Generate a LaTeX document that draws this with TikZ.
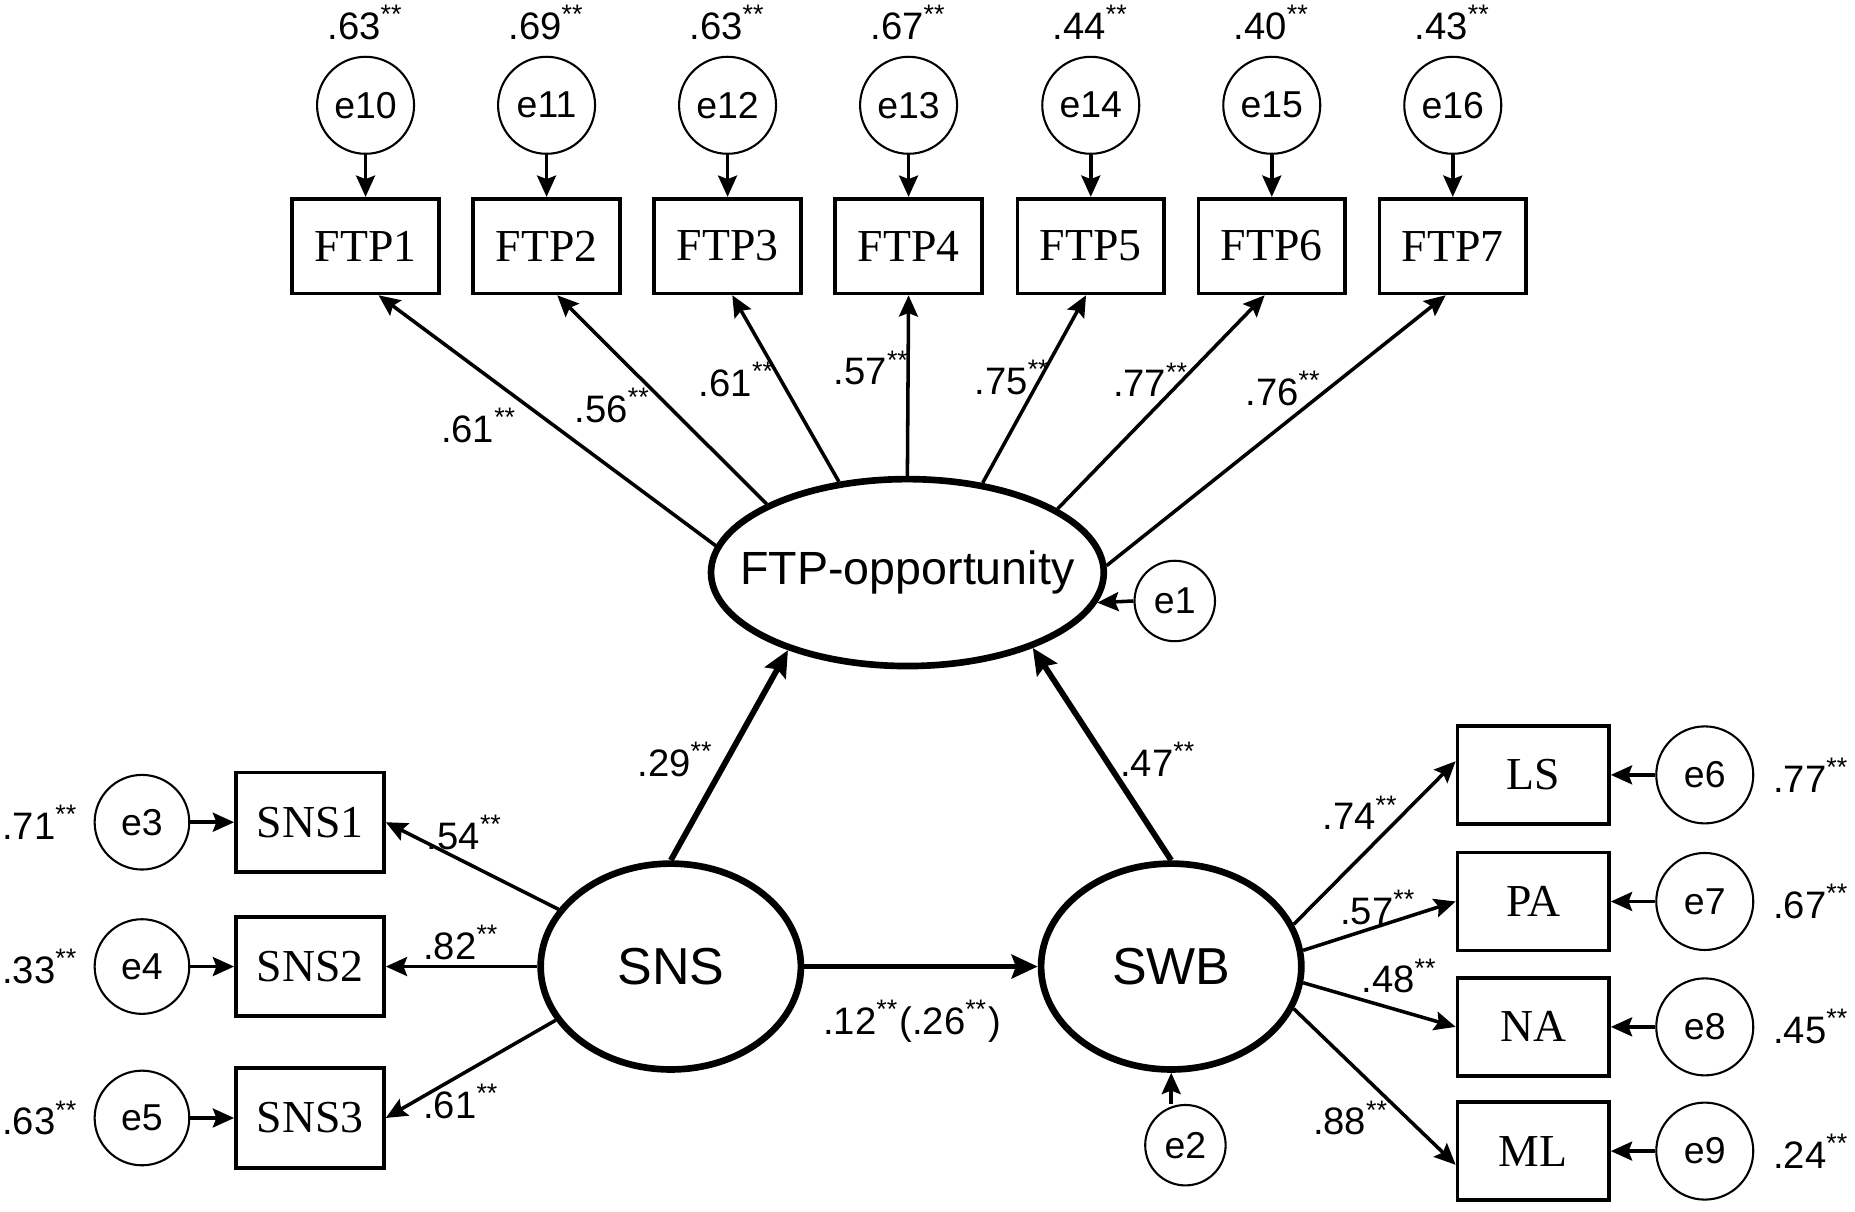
\documentclass[tikz,border=0pt]{standalone}
\usepackage{fontspec}
\setmainfont{Liberation Serif}
\setsansfont{Liberation Sans}
\usetikzlibrary{arrows.meta, shapes.geometric, positioning}
\tikzset{
	obsbox/.style={draw, line width=0.9pt, minimum width=1.24cm, minimum height=0.80cm,
	  inner sep=0pt, font=\fontsize{11}{13}\selectfont}
}
\tikzset{
	errcirc/.style={draw, circle, line width=0.5pt, minimum size=0.82cm, inner sep=0pt,
	  font=\sffamily\fontsize{9}{10}\selectfont}
}
\tikzset{
	latent/.style={draw, ellipse, line width=1.6pt, inner xsep=-0.3cm, inner ysep=0pt,
	  font=\sffamily\fontsize{12.5}{14}\selectfont}
}
\tikzset{
	coef/.style={inner sep=0pt, font=\sffamily\fontsize{9.2}{10}\selectfont}
}
\tikzset{
	arr/.style={-{Stealth[length=1.8mm,width=1.6mm,inset=0.3mm]}, line width=0.85pt},
	patharr/.style={-{Stealth[length=2.2mm,width=2mm,inset=0.35mm]}, line width=1.4pt}
}
\newcommand{\pstar}[1]{#1\textsuperscript{**}}

\begin{document}
\begin{tikzpicture}
      \useasboundingbox (0,0) rectangle (15.68,10.24);
      % latent variables
      \node[latent, minimum width=3.32cm, minimum height=1.58cm,
        font=\sffamily\fontsize{11.2}{13}\selectfont] (ftpo) at (7.67,5.40) {FTP-opportunity};
      \node[latent, minimum width=2.20cm, minimum height=1.74cm] (sns) at (5.67,2.07) {SNS};
      \node[latent, minimum width=2.20cm, minimum height=1.74cm] (swb) at (9.90,2.07) {SWB};
      \node[errcirc, minimum size=0.68cm] (e1) at (9.93,5.16) {e1};
      \node[errcirc, minimum size=0.68cm] (e2) at (10.02,0.56) {e2};
      % FTP items
      \foreach \i/\x/\e/\v in {1/3.09/10/.63, 2/4.62/11/.69, 3/6.15/12/.63, 4/7.68/13/.67,
        5/9.22/14/.44, 6/10.75/15/.40, 7/12.28/16/.43} {
        \node[obsbox] (ftp\i) at (\x,8.16) {FTP\i};
        \node[errcirc] (e\e) at (\x,9.35) {e\e};
        \node[coef] at (\x,10.05) {\pstar{\v}};
        \draw[arr] (e\e) -- (ftp\i);
      }
      \foreach \i/\a/\s/\lx/\ly/\v in {1/172/0.11/4.05/6.64/.61, 2/154/0.09/5.18/6.81/.56,
        3/127/0.04/6.23/7.03/.61, 4/90/0/7.37/7.13/.57, 5/50/-0.04/8.56/7.05/.75,
        6/23/-0.06/9.73/7.03/.77, 7/2/-0.06/10.85/6.96/.76} {
        \draw[arr] (ftpo.\a) -- ([xshift=\s cm]ftp\i.south);
        \node[coef] at (\lx,\ly) {\pstar{\v}};
      }
      % SNS items
      \foreach \i/\e/\y/\v in {1/3/3.29/.71, 2/4/2.07/.33, 3/5/0.79/.63} {
        \node[obsbox, minimum width=1.25cm, minimum height=0.84cm] (sns\i) at (2.62,\y) {SNS\i};
        \node[errcirc, minimum size=0.80cm] (e\e) at (1.20,\y) {e\e};
        \node[coef] at (0.34,\y) {\pstar{\v}};
        \draw[arr] (e\e) -- (sns\i);
      }
      \draw[arr] (sns.153) -- (sns1.east);
      \draw[arr] (sns) -- (sns2);
      \draw[arr] (sns.205) -- (sns3.east);
      \node[coef] at (3.93,3.20) {\pstar{.54}};
      \node[coef] at (3.90,2.27) {\pstar{.82}};
      \node[coef] at (3.90,0.93) {\pstar{.61}};
      % SWB items
      \foreach \n/\e/\y/\v in {LS/6/3.69/.77, PA/7/2.62/.67, NA/8/1.56/.45, ML/9/0.51/.24} {
        \node[obsbox, minimum width=1.28cm, minimum height=0.83cm] (\n) at (12.96,\y) {\n};
        \node[errcirc] (e\e) at (14.41,\y) {e\e};
        \node[coef] at (15.31,\y) {\pstar{\v}};
        \draw[arr] (e\e) -- (\n);
      }
      \draw[arr] (swb.19) -- (LS.170);
      \draw[arr] (swb.7) -- (PA.west);
      \draw[arr] (swb.-7) -- (NA.west);
      \draw[arr] (swb.-19) -- (ML.190);
      \node[coef] at (11.50,3.37) {\pstar{.74}};
      \node[coef] at (11.65,2.57) {\pstar{.57}};
      \node[coef] at (11.83,1.99) {\pstar{.48}};
      \node[coef] at (11.42,0.79) {\pstar{.88}};
      % structural paths
      \draw[patharr] (sns.north) -- (ftpo.213);
      \draw[patharr] (swb.north) -- (ftpo.329);
      \draw[patharr] (sns) -- (swb);
      \draw[arr] (e1.west) -- (ftpo.351);
      \draw[arr] (e2.north -| swb.south) -- (swb.south);
      \node[coef] at (5.71,3.82) {\pstar{.29}};
      \node[coef] at (9.79,3.82) {\pstar{.47}};
      \node[coef] at (7.71,1.61) {\pstar{.12}(\pstar{.26})};
    \end{tikzpicture}
\end{document}
